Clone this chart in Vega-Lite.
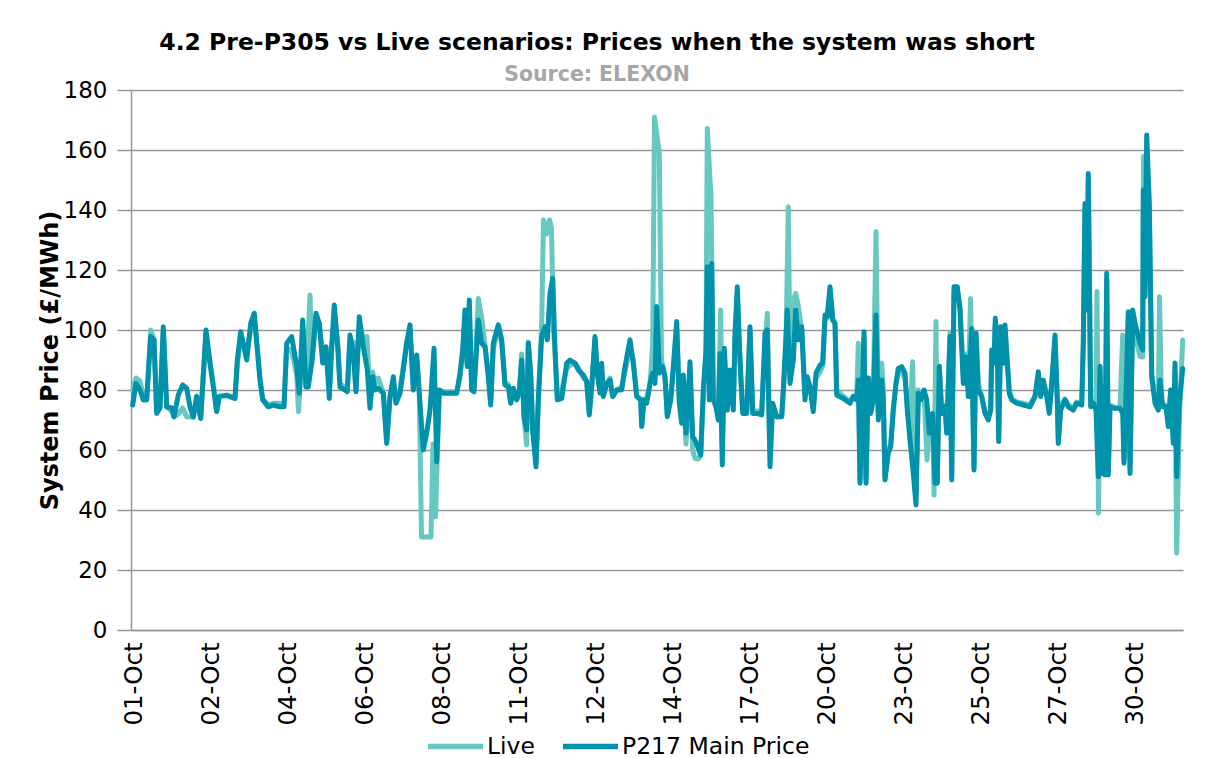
{
"$schema": "https://vega.github.io/schema/vega-lite/v6.json",
"width": 1052, "height": 540,
"autosize": "none",
"padding": {"left": 131, "top": 90, "right": 29, "bottom": 128},
"background": "white",
"title": {"text": "4.2 Pre-P305 vs Live scenarios: Prices when the system was short", "subtitle": "Source: ELEXON", "anchor": "middle", "frame": "group", "dx": -60, "font": "DejaVu Sans", "fontSize": 23.5, "fontWeight": "bold", "color": "#000000", "subtitleFont": "DejaVu Sans", "subtitleFontSize": 20.5, "subtitleFontWeight": "bold", "subtitleColor": "#A6A6A6", "subtitlePadding": 10, "offset": -6},
"datasets": {
"live": [
{"t":1.7,"v":80},{"t":5,"v":84},{"t":9,"v":83},{"t":12.3,"v":78},{"t":15.7,"v":77},{"t":19.7,"v":100},{"t":23,"v":97},{"t":25.7,"v":73},{"t":29,"v":74},{"t":32.3,"v":100},{"t":35.7,"v":74.4},{"t":40.7,"v":73},{"t":43,"v":71},{"t":47.3,"v":72},{"t":51.7,"v":74},{"t":55.7,"v":71},{"t":59,"v":71},{"t":62.3,"v":71},{"t":65.7,"v":78},{"t":69.7,"v":71},{"t":75,"v":99},{"t":79,"v":89},{"t":82.3,"v":82},{"t":85.7,"v":73},{"t":88.3,"v":78},{"t":95.7,"v":78},{"t":104,"v":77.2},{"t":106.3,"v":88},{"t":109.7,"v":98},{"t":115.7,"v":92},{"t":119.7,"v":100},{"t":123.3,"v":104},{"t":129,"v":84},{"t":131.7,"v":77},{"t":137.3,"v":75},{"t":142.3,"v":75.6},{"t":149,"v":75.6},{"t":153,"v":75},{"t":155.7,"v":94},{"t":160.7,"v":93},{"t":165.7,"v":85},{"t":167.5,"v":72.8},{"t":171.7,"v":95},{"t":175,"v":81},{"t":179,"v":111.7},{"t":181,"v":89},{"t":185,"v":104},{"t":188.3,"v":102},{"t":191.7,"v":92},{"t":195,"v":94},{"t":198.3,"v":81},{"t":200.7,"v":94},{"t":203.3,"v":104},{"t":206.7,"v":96},{"t":209,"v":82},{"t":214,"v":81},{"t":216.3,"v":80},{"t":219,"v":97},{"t":222.3,"v":96},{"t":225,"v":80},{"t":228.3,"v":102},{"t":232.3,"v":97},{"t":236,"v":97.8},{"t":239,"v":76},{"t":241.7,"v":86},{"t":244,"v":82},{"t":247.3,"v":84},{"t":252.3,"v":79},{"t":255.7,"v":63},{"t":259,"v":77.8},{"t":262.3,"v":83},{"t":265,"v":76},{"t":269,"v":80},{"t":272.3,"v":88},{"t":275.7,"v":96},{"t":279,"v":100},{"t":282.3,"v":81},{"t":285.7,"v":90},{"t":288.3,"v":79},{"t":290.5,"v":31},{"t":300,"v":31},{"t":302,"v":62},{"t":304.5,"v":37.8},{"t":308.3,"v":80},{"t":312.3,"v":79.4},{"t":325.7,"v":79.4},{"t":329,"v":84},{"t":331.7,"v":92},{"t":334,"v":104},{"t":336.3,"v":88},{"t":338.3,"v":106},{"t":340.7,"v":80},{"t":343,"v":80},{"t":347.3,"v":110.5},{"t":350.7,"v":104},{"t":354,"v":95},{"t":357.3,"v":86},{"t":359.7,"v":76},{"t":362.3,"v":94},{"t":367.3,"v":100},{"t":370.7,"v":96},{"t":374,"v":82},{"t":377.3,"v":82},{"t":379.7,"v":76},{"t":382.3,"v":80},{"t":385.7,"v":77},{"t":388.3,"v":79.4},{"t":390.7,"v":92},{"t":393,"v":71},{"t":395.7,"v":61.7},{"t":397.3,"v":96},{"t":399.7,"v":85},{"t":401.7,"v":66.7},{"t":405,"v":56},{"t":407.3,"v":76.7},{"t":410.7,"v":102},{"t":412.5,"v":136.7},{"t":415.5,"v":132},{"t":418.5,"v":136.7},{"t":420.5,"v":134},{"t":422.5,"v":100},{"t":424,"v":93.3},{"t":426.3,"v":78},{"t":430.7,"v":80},{"t":435.7,"v":87},{"t":439,"v":88.3},{"t":444,"v":89},{"t":447.3,"v":87.5},{"t":452.3,"v":84},{"t":455.7,"v":83},{"t":458.3,"v":72.5},{"t":460.7,"v":81},{"t":464,"v":97},{"t":466.3,"v":86},{"t":469,"v":80},{"t":470.7,"v":86},{"t":472.3,"v":79},{"t":475.7,"v":82},{"t":479,"v":84},{"t":481.7,"v":78},{"t":485.7,"v":80},{"t":490.7,"v":81},{"t":494,"v":86},{"t":499,"v":94},{"t":502.3,"v":90},{"t":505.7,"v":78},{"t":509.7,"v":77},{"t":510.7,"v":68},{"t":513,"v":77},{"t":515.7,"v":77},{"t":519,"v":82},{"t":521.7,"v":95},{"t":523.5,"v":171},{"t":528.3,"v":159},{"t":530.5,"v":90},{"t":531.7,"v":87.8},{"t":534,"v":84},{"t":536.3,"v":72},{"t":539.7,"v":77},{"t":542.3,"v":86},{"t":545.7,"v":100},{"t":548.3,"v":78},{"t":550.7,"v":70},{"t":552.3,"v":82},{"t":555,"v":62},{"t":557.3,"v":75},{"t":559,"v":84},{"t":561.7,"v":60},{"t":564,"v":57.2},{"t":567.3,"v":57},{"t":569.7,"v":58.3},{"t":572.3,"v":78},{"t":575,"v":93},{"t":576.3,"v":167.2},{"t":579,"v":150},{"t":580,"v":145.6},{"t":582.3,"v":78},{"t":585,"v":75},{"t":587.3,"v":72},{"t":589.7,"v":106.7},{"t":591.3,"v":60},{"t":593.3,"v":92},{"t":596.3,"v":74},{"t":599,"v":85},{"t":602.3,"v":74},{"t":604,"v":97},{"t":606.3,"v":112},{"t":609,"v":90},{"t":611.7,"v":73},{"t":615.7,"v":73},{"t":619,"v":100},{"t":621.7,"v":73},{"t":625.7,"v":73},{"t":630.7,"v":73},{"t":634,"v":95},{"t":636.3,"v":105.6},{"t":638.5,"v":65},{"t":641.7,"v":74},{"t":645.7,"v":71.1},{"t":650.7,"v":71.1},{"t":652.3,"v":79},{"t":655,"v":95},{"t":657.3,"v":141.1},{"t":659,"v":90},{"t":662.3,"v":110},{"t":664.7,"v":112.2},{"t":667.3,"v":108},{"t":670.7,"v":100},{"t":674,"v":79},{"t":676.3,"v":83},{"t":679,"v":81},{"t":682.3,"v":74},{"t":685,"v":84},{"t":689,"v":86},{"t":691.7,"v":88},{"t":694,"v":103},{"t":696.3,"v":104},{"t":699,"v":113},{"t":701.7,"v":104},{"t":704,"v":102},{"t":705.7,"v":80},{"t":712.3,"v":78},{"t":719,"v":76},{"t":722.3,"v":78},{"t":725.7,"v":77},{"t":727.3,"v":95.6},{"t":729,"v":50},{"t":731.7,"v":84},{"t":733,"v":97},{"t":735,"v":50},{"t":737.3,"v":84},{"t":739.7,"v":74},{"t":742.3,"v":78},{"t":745,"v":132.8},{"t":747.3,"v":72},{"t":750.7,"v":89},{"t":752.3,"v":80},{"t":754,"v":51},{"t":757.3,"v":60},{"t":759.7,"v":62},{"t":762.3,"v":74},{"t":765,"v":82},{"t":767.3,"v":86},{"t":770.7,"v":86},{"t":774,"v":84},{"t":776.3,"v":75},{"t":779,"v":66},{"t":781.5,"v":89.4},{"t":785,"v":45},{"t":787.3,"v":80},{"t":789.7,"v":77},{"t":793,"v":80},{"t":796,"v":56.7},{"t":798.3,"v":68},{"t":801.7,"v":72},{"t":803,"v":45},{"t":805,"v":102.8},{"t":806.3,"v":50},{"t":808.3,"v":88},{"t":810.7,"v":73},{"t":814,"v":75},{"t":815.7,"v":66},{"t":819,"v":99},{"t":820.7,"v":52},{"t":823,"v":112},{"t":826.3,"v":113},{"t":829,"v":108},{"t":832.3,"v":85},{"t":835,"v":92},{"t":837.3,"v":80},{"t":839.5,"v":110.5},{"t":843,"v":54},{"t":845,"v":99},{"t":847.3,"v":82},{"t":850.7,"v":78},{"t":854,"v":73},{"t":857.3,"v":71},{"t":859.7,"v":74},{"t":860.7,"v":92},{"t":863,"v":90},{"t":864.3,"v":102},{"t":866.3,"v":97},{"t":867.7,"v":64},{"t":869.7,"v":100},{"t":872.3,"v":92},{"t":874,"v":100},{"t":876.3,"v":90},{"t":878.3,"v":80},{"t":880.7,"v":77},{"t":885.7,"v":76},{"t":892.3,"v":75.6},{"t":899,"v":75},{"t":904,"v":78},{"t":907.3,"v":84},{"t":909.7,"v":79},{"t":912.3,"v":82},{"t":915.7,"v":79},{"t":918.3,"v":74},{"t":920.7,"v":81},{"t":924,"v":96},{"t":926.3,"v":77},{"t":927.3,"v":64},{"t":929.7,"v":75},{"t":934,"v":77},{"t":937.3,"v":75},{"t":942.3,"v":74},{"t":945.7,"v":76},{"t":950.7,"v":75},{"t":952.3,"v":96},{"t":954,"v":141},{"t":955.7,"v":108},{"t":957.3,"v":150},{"t":959.7,"v":76},{"t":962.3,"v":76},{"t":965,"v":74},{"t":966,"v":112.8},{"t":967.5,"v":38.9},{"t":969,"v":88},{"t":970.7,"v":53},{"t":972.3,"v":81},{"t":974,"v":53},{"t":975.7,"v":117},{"t":977.3,"v":53},{"t":979,"v":75},{"t":984,"v":74},{"t":989,"v":74},{"t":991.7,"v":98.3},{"t":993,"v":57},{"t":995,"v":78},{"t":997.3,"v":104},{"t":999,"v":54},{"t":1001.7,"v":105},{"t":1004,"v":98},{"t":1009,"v":91.1},{"t":1011.7,"v":91},{"t":1012.5,"v":157.8},{"t":1014,"v":112},{"t":1015.7,"v":157},{"t":1018.3,"v":140},{"t":1020.7,"v":86},{"t":1024,"v":77},{"t":1027.3,"v":74},{"t":1028.5,"v":111.1},{"t":1030.5,"v":76},{"t":1031.7,"v":75},{"t":1035,"v":75},{"t":1037.3,"v":69},{"t":1039.7,"v":80},{"t":1042.3,"v":64},{"t":1044,"v":86},{"t":1045.7,"v":25.6},{"t":1048.3,"v":70},{"t":1051.7,"v":96.7}
],
"p217": [
{"t":1.7,"v":75},{"t":5,"v":82.2},{"t":9,"v":80},{"t":12.3,"v":76.7},{"t":15.7,"v":76.7},{"t":19.7,"v":97.8},{"t":23,"v":96.7},{"t":25.7,"v":72.2},{"t":29,"v":74},{"t":32.3,"v":101.1},{"t":35.7,"v":74.4},{"t":40.7,"v":74},{"t":43,"v":71.1},{"t":47.3,"v":78.3},{"t":51.7,"v":81.7},{"t":55.7,"v":80.6},{"t":59,"v":74.4},{"t":62.3,"v":71},{"t":65.7,"v":77.8},{"t":69.7,"v":70.5},{"t":75,"v":100},{"t":79,"v":88.9},{"t":82.3,"v":81},{"t":85.7,"v":72.8},{"t":88.3,"v":77.8},{"t":95.7,"v":78.3},{"t":104,"v":77.2},{"t":106.3,"v":90},{"t":109.7,"v":99.4},{"t":115.7,"v":90},{"t":119.7,"v":102.2},{"t":123.3,"v":105.6},{"t":129,"v":83.3},{"t":131.7,"v":76.7},{"t":137.3,"v":74.4},{"t":142.3,"v":75},{"t":149,"v":74.4},{"t":153,"v":74.4},{"t":155.7,"v":95.6},{"t":160.7,"v":97.8},{"t":165.7,"v":87.8},{"t":168.3,"v":78.9},{"t":171.7,"v":103.3},{"t":175,"v":81},{"t":177.3,"v":81},{"t":180.7,"v":89},{"t":185,"v":105.6},{"t":188.3,"v":102.2},{"t":191.7,"v":89},{"t":195,"v":94.4},{"t":198.3,"v":77.2},{"t":200.7,"v":94.4},{"t":203.3,"v":108.3},{"t":206.7,"v":94.4},{"t":209,"v":81},{"t":214,"v":80},{"t":216.3,"v":79.4},{"t":219,"v":98.3},{"t":222.3,"v":92.2},{"t":225,"v":79.4},{"t":228.3,"v":104.4},{"t":232.3,"v":94.4},{"t":236.3,"v":86.7},{"t":239,"v":73.9},{"t":241.7,"v":84.4},{"t":244,"v":80},{"t":247.3,"v":80.6},{"t":252.3,"v":78.9},{"t":255.7,"v":62.2},{"t":259,"v":77.8},{"t":262.3,"v":84.4},{"t":265,"v":75.6},{"t":269,"v":78.9},{"t":272.3,"v":86.7},{"t":275.7,"v":95.6},{"t":279,"v":101.7},{"t":282.3,"v":80},{"t":285.7,"v":91.7},{"t":288.3,"v":78.9},{"t":292.3,"v":60},{"t":295.7,"v":65.6},{"t":299,"v":73.3},{"t":303,"v":93.9},{"t":305.7,"v":56.1},{"t":308.3,"v":80},{"t":312.3,"v":78.9},{"t":325.7,"v":78.9},{"t":329,"v":85.6},{"t":331.7,"v":93.3},{"t":334,"v":106.7},{"t":336.3,"v":87.8},{"t":338.3,"v":110},{"t":340.7,"v":80},{"t":343,"v":79.4},{"t":347.3,"v":103.3},{"t":350.7,"v":95.6},{"t":354,"v":94.4},{"t":357.3,"v":84.4},{"t":359.7,"v":75},{"t":362.3,"v":95.6},{"t":367.3,"v":101.7},{"t":370.7,"v":96.7},{"t":374,"v":81.7},{"t":377.3,"v":81.1},{"t":379.7,"v":75.6},{"t":382.3,"v":80.6},{"t":385.7,"v":76.7},{"t":388.3,"v":79.4},{"t":390.7,"v":90},{"t":393,"v":71.1},{"t":395.7,"v":66.7},{"t":397.3,"v":95.6},{"t":399.7,"v":85.6},{"t":401.7,"v":66.7},{"t":405,"v":54.4},{"t":407.3,"v":76.7},{"t":410.7,"v":97.8},{"t":414,"v":101.1},{"t":416.3,"v":96.7},{"t":419,"v":112.2},{"t":421.7,"v":117.2},{"t":424,"v":93.3},{"t":426.3,"v":76.7},{"t":430.7,"v":77.2},{"t":435.7,"v":88.9},{"t":439,"v":90},{"t":444,"v":88.9},{"t":447.3,"v":86.7},{"t":452.3,"v":85},{"t":455.7,"v":82.8},{"t":458.3,"v":71.7},{"t":460.7,"v":81.1},{"t":464,"v":97.8},{"t":466.3,"v":85.6},{"t":469,"v":79},{"t":470.7,"v":88.9},{"t":472.3,"v":77.8},{"t":475.7,"v":82.2},{"t":479,"v":83.3},{"t":481.7,"v":77.8},{"t":485.7,"v":80},{"t":490.7,"v":80},{"t":494,"v":87.8},{"t":499,"v":96.7},{"t":502.3,"v":88.9},{"t":505.7,"v":77.8},{"t":509.7,"v":76.7},{"t":510.7,"v":67.8},{"t":513,"v":76.7},{"t":515.7,"v":75.6},{"t":519,"v":82.2},{"t":521.7,"v":85.6},{"t":524,"v":82.2},{"t":525.7,"v":107.8},{"t":528.3,"v":85.6},{"t":531.7,"v":87.8},{"t":534,"v":84.4},{"t":536.3,"v":71.1},{"t":539.7,"v":76.7},{"t":542.3,"v":87.8},{"t":545.7,"v":102.8},{"t":548.3,"v":75.6},{"t":550.7,"v":68.9},{"t":552.3,"v":85},{"t":555,"v":65.6},{"t":557.3,"v":78.9},{"t":559,"v":89.4},{"t":561.7,"v":64.4},{"t":564,"v":63.3},{"t":567.3,"v":60.6},{"t":569.7,"v":58.3},{"t":572.3,"v":80},{"t":575,"v":93.3},{"t":576.3,"v":121.1},{"t":578.3,"v":76.7},{"t":580.7,"v":122.2},{"t":582.3,"v":76.7},{"t":585,"v":74.4},{"t":587.3,"v":70},{"t":589,"v":92.2},{"t":591.3,"v":55},{"t":593.3,"v":93.9},{"t":596.3,"v":73.3},{"t":599,"v":86.7},{"t":602.3,"v":73.3},{"t":604,"v":98.9},{"t":606.3,"v":114.4},{"t":609,"v":90},{"t":611.7,"v":72.2},{"t":615.7,"v":72.2},{"t":619,"v":101.1},{"t":621.7,"v":72.2},{"t":625.7,"v":72.2},{"t":630.7,"v":71.7},{"t":634,"v":98.9},{"t":636.3,"v":100},{"t":639,"v":54.4},{"t":641.7,"v":75.6},{"t":645.7,"v":71.1},{"t":650.7,"v":71.1},{"t":652.3,"v":80},{"t":656.3,"v":106.7},{"t":659,"v":82.2},{"t":662.3,"v":90},{"t":664.7,"v":106.7},{"t":667.3,"v":96.7},{"t":670.7,"v":101.1},{"t":674,"v":76.7},{"t":676.3,"v":84.4},{"t":679,"v":81.1},{"t":682.3,"v":72.8},{"t":685,"v":85.6},{"t":689,"v":88.3},{"t":691.7,"v":88.9},{"t":694,"v":105},{"t":696.3,"v":104.4},{"t":699,"v":114.4},{"t":701.7,"v":103.3},{"t":704,"v":102.2},{"t":705.7,"v":78.3},{"t":712.3,"v":77.2},{"t":719,"v":75.6},{"t":722.3,"v":77.8},{"t":725.7,"v":76.7},{"t":727.3,"v":83.3},{"t":729,"v":48.9},{"t":731.7,"v":83.3},{"t":733,"v":99.4},{"t":735,"v":48.9},{"t":737.3,"v":84},{"t":739.7,"v":72.2},{"t":742.3,"v":76.7},{"t":745,"v":105},{"t":747.3,"v":70},{"t":750.7,"v":83.3},{"t":752.3,"v":76.7},{"t":754,"v":50},{"t":757.3,"v":58.9},{"t":759.7,"v":61.1},{"t":762.3,"v":73.3},{"t":765,"v":82.2},{"t":767.3,"v":87.2},{"t":770.7,"v":87.8},{"t":774,"v":85.6},{"t":776.3,"v":73.3},{"t":779,"v":63.3},{"t":782.3,"v":52.2},{"t":785,"v":41.7},{"t":787.3,"v":78.9},{"t":789.7,"v":76.7},{"t":793,"v":80},{"t":795.7,"v":76.7},{"t":798.3,"v":65.6},{"t":801.7,"v":72.2},{"t":804,"v":48.9},{"t":806.3,"v":48.9},{"t":808.3,"v":87.8},{"t":810.7,"v":72.2},{"t":814,"v":74.4},{"t":815.7,"v":65.6},{"t":819,"v":97.8},{"t":820.7,"v":50},{"t":823,"v":114.4},{"t":826.3,"v":114.4},{"t":829,"v":106.7},{"t":832.3,"v":82.2},{"t":835,"v":91.1},{"t":837.3,"v":77.8},{"t":840.7,"v":100.5},{"t":843,"v":53.3},{"t":845,"v":98.9},{"t":847.3,"v":80},{"t":850.7,"v":77.8},{"t":854,"v":72.2},{"t":857.3,"v":70},{"t":859.7,"v":73.3},{"t":860.7,"v":93.3},{"t":863,"v":88.9},{"t":864.3,"v":103.9},{"t":866.3,"v":95.6},{"t":867.7,"v":62.8},{"t":869.7,"v":101.1},{"t":872.3,"v":88.9},{"t":874,"v":101.7},{"t":876.3,"v":88.9},{"t":878.3,"v":78.9},{"t":880.7,"v":76.7},{"t":885.7,"v":75.6},{"t":892.3,"v":75},{"t":899,"v":74.4},{"t":904,"v":77.8},{"t":907.3,"v":86.1},{"t":909.7,"v":77.8},{"t":912.3,"v":83.3},{"t":915.7,"v":77.8},{"t":918.3,"v":72.2},{"t":920.7,"v":82.2},{"t":924,"v":98.3},{"t":926.3,"v":76.7},{"t":927.3,"v":62.2},{"t":929.7,"v":73.3},{"t":934,"v":76.7},{"t":937.3,"v":74.4},{"t":942.3,"v":73.3},{"t":945.7,"v":75.6},{"t":950.7,"v":75},{"t":952.3,"v":95.6},{"t":954,"v":142.2},{"t":955.7,"v":106.7},{"t":957.3,"v":152.2},{"t":959.7,"v":74.4},{"t":962.3,"v":75.6},{"t":965,"v":73.3},{"t":967.3,"v":51.1},{"t":969,"v":87.8},{"t":970.7,"v":52.2},{"t":972.3,"v":81.1},{"t":974,"v":51.7},{"t":975.7,"v":118.9},{"t":977.3,"v":51.7},{"t":979,"v":74.4},{"t":984,"v":73.9},{"t":989,"v":73.9},{"t":991.7,"v":72.2},{"t":993,"v":55.6},{"t":995,"v":77.8},{"t":997.3,"v":106.1},{"t":999,"v":52.2},{"t":1001.7,"v":106.7},{"t":1004,"v":102.2},{"t":1009,"v":95.6},{"t":1011.7,"v":93.3},{"t":1012.3,"v":146.7},{"t":1014,"v":111.1},{"t":1015.7,"v":165},{"t":1018.3,"v":142.2},{"t":1020.7,"v":84.4},{"t":1024,"v":75.6},{"t":1027.3,"v":73.3},{"t":1029,"v":83.3},{"t":1031.7,"v":74.4},{"t":1035,"v":74.4},{"t":1037.3,"v":67.8},{"t":1039.7,"v":80},{"t":1042.3,"v":62.2},{"t":1044,"v":89},{"t":1045.7,"v":51.1},{"t":1048.3,"v":75.6},{"t":1051.7,"v":87.2}
]
},
"encoding": {
  "x": {"field": "t", "type": "quantitative", "scale": {"domain": [0, 1052], "nice": false, "zero": false},
    "axis": {"title": null, "values": [3, 80, 157, 234, 311, 388, 465, 542, 619, 696, 773, 850, 927, 1004],
      "labelExpr": "['01-Oct','02-Oct','04-Oct','06-Oct','08-Oct','11-Oct','12-Oct','14-Oct','17-Oct','20-Oct','23-Oct','25-Oct','27-Oct','30-Oct'][round((datum.value-3)/77)]",
      "labelAngle": -90, "ticks": false, "grid": false, "labelPadding": 12, "labelFontSize": 24.5, "labelOverlap": false, "labelFlush": false}},
  "y": {"field": "v", "type": "quantitative", "scale": {"domain": [0, 180], "nice": false},
    "axis": {"title": "System Price (£/MWh)", "values": [0, 20, 40, 60, 80, 100, 120, 140, 160, 180], "tickSize": 14, "labelPadding": 10, "labelFontSize": 23, "titleFontSize": 24, "titleFontWeight": "bold", "titlePadding": 1, "labelFlush": false}}
},
"layer": [
  {"data": {"name": "live"}, "mark": {"type": "line", "strokeWidth": 5, "strokeJoin": "round", "strokeCap": "round"},
   "encoding": {"color": {"datum": "Live", "type": "nominal", "scale": {"domain": ["Live", "P217 Main Price"], "range": ["#66C8C0", "#0092AB"]},
     "legend": {"orient": "none", "legendX": 294, "legendY": 626, "padding": 0, "direction": "horizontal", "title": null, "symbolType": "stroke", "symbolSize": 3025, "symbolStrokeWidth": 5.5, "labelFontSize": 23.5, "labelFont": "DejaVu Sans", "labelColor": "#000000", "labelLimit": 400, "columnPadding": 17, "labelOffset": 1}}}},
  {"data": {"name": "p217"}, "mark": {"type": "line", "strokeWidth": 5, "strokeJoin": "round", "strokeCap": "round"},
   "encoding": {"color": {"datum": "P217 Main Price", "type": "nominal"}}}
],
"config": {
  "view": {"stroke": null},
  "axis": {"labelFont": "DejaVu Sans", "titleFont": "DejaVu Sans", "labelColor": "#000000", "titleColor": "#000000", "domainColor": "#969696", "domainWidth": 1.5, "tickColor": "#969696", "tickWidth": 1.5, "gridColor": "#969696", "gridWidth": 1.5}
}
}
